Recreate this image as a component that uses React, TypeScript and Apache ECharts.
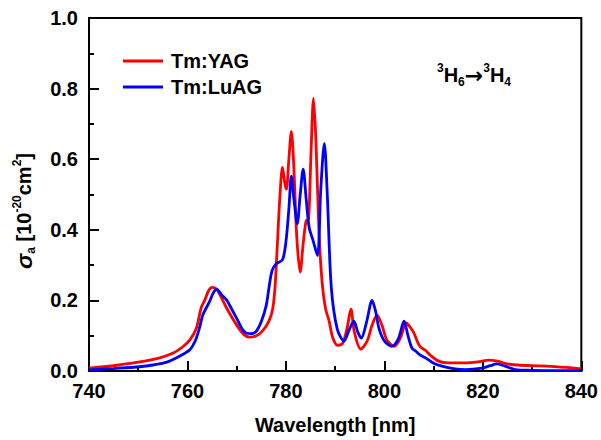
import React, { useEffect, useRef } from "react";
import * as echarts from "echarts";

const seriesNames = ["Tm:YAG", "Tm:LuAG"];
const seriesColors = ["#ff0000", "#0000ff"];

// Tm:YAG absorption cross-section [wavelength nm, sigma 1e-20 cm2]
const yagData: [number, number][] = [
  [740, 0.008], [743, 0.012], [746, 0.017], [750, 0.025], [754, 0.036], [757, 0.05],
  [759, 0.068], [760.5, 0.088], [761.8, 0.121], [762.8, 0.18], [763.5, 0.2], [764.3, 0.228],
  [765, 0.237], [765.9, 0.232], [767, 0.205], [768, 0.177], [770, 0.13], [771.5, 0.103],
  [772.6, 0.096], [774, 0.1], [775.2, 0.113], [776.5, 0.14], [777.3, 0.175], [777.8, 0.24],
  [778.3, 0.37], [778.8, 0.5], [779.3, 0.577], [779.8, 0.53], [780.1, 0.515], [780.6, 0.6],
  [781.1, 0.679], [781.6, 0.58], [782.2, 0.38], [782.9, 0.28], [783.5, 0.36], [784.1, 0.425],
  [784.6, 0.43], [785.1, 0.62], [785.6, 0.772], [786.1, 0.65], [786.7, 0.4], [787.3, 0.26],
  [788, 0.18], [788.8, 0.14], [789.5, 0.095], [790.5, 0.073], [791.5, 0.078], [792.4, 0.12],
  [793.2, 0.175], [793.9, 0.11], [795.2, 0.062], [796.5, 0.085], [797.5, 0.13], [798.5, 0.158],
  [799.5, 0.13], [800.5, 0.088], [802, 0.07], [803.3, 0.095], [804.4, 0.136], [805.2, 0.125],
  [806, 0.107], [807.2, 0.07], [808.4, 0.058], [809.3, 0.045], [811, 0.028], [813, 0.023],
  [816.5, 0.023], [819, 0.026], [821.2, 0.031], [823, 0.028], [825, 0.02], [827, 0.017],
  [830, 0.015], [833, 0.014], [837, 0.01], [840, 0.006],
];

// Tm:LuAG absorption cross-section
const luagData: [number, number][] = [
  [740, 0.003], [745, 0.007], [750.3, 0.012], [753, 0.017], [755.8, 0.025], [758.4, 0.042],
  [760.4, 0.059], [761.2, 0.075], [761.8, 0.093], [762.5, 0.125], [763.1, 0.158], [764.5, 0.197],
  [765.2, 0.22], [765.9, 0.232], [767, 0.215], [768, 0.2], [769, 0.175], [770, 0.149],
  [771, 0.122], [772, 0.107], [773, 0.106], [774, 0.113], [775, 0.14], [776, 0.186],
  [776.6, 0.24], [777.2, 0.285], [778, 0.303], [779.3, 0.315], [780, 0.366], [780.6, 0.459],
  [781.1, 0.552], [781.6, 0.49], [782.3, 0.417], [782.9, 0.5], [783.5, 0.572], [784.1, 0.49],
  [784.7, 0.408], [785.5, 0.37], [786.4, 0.327], [787.1, 0.52], [787.8, 0.645], [788.4, 0.5],
  [789.2, 0.24], [790.4, 0.12], [791.8, 0.085], [792.8, 0.115], [793.8, 0.141], [794.6, 0.11],
  [795.3, 0.093], [796.4, 0.14], [797.5, 0.2], [798.2, 0.17], [798.9, 0.121], [800, 0.085],
  [801.5, 0.07], [802.8, 0.09], [804, 0.141], [804.8, 0.1], [805.6, 0.065], [806.4, 0.056],
  [807.3, 0.045], [808.4, 0.037], [810, 0.022], [811.7, 0.014], [814, 0.007], [816.5, 0.004],
  [819.8, 0.008], [821.5, 0.015], [822.8, 0.02], [824.5, 0.014], [826.6, 0.004], [830, 0.002],
  [835, 0.001], [840, 0.001],
];

const xTitle = "Wavelength [nm]";
const FONT = "'Liberation Sans', Arial, Helvetica, sans-serif";

export default function App() {
  const ref = useRef<HTMLDivElement>(null);
  useEffect(() => {
    if (!ref.current) return;
    const chart = echarts.init(ref.current, undefined, { renderer: "svg" });
    const option: any = {
      animation: false,
      backgroundColor: "#fff",
      textStyle: { fontFamily: FONT },
      grid: {
        left: 89, right: 18, top: 18, bottom: 67,
        show: true, borderColor: "#000", borderWidth: 2, backgroundColor: "transparent",
      },
      legend: {
        orient: "vertical",
        left: 118,
        top: 46,
        itemWidth: 40,
        itemHeight: 14,
        itemGap: 6,
        icon: "path://M0,5.5 L40,5.5 L40,8.5 L0,8.5 Z",
        textStyle: { fontSize: 20, fontWeight: "bold", color: "#000", fontFamily: FONT, padding: [0, 0, 0, 3] },
        data: seriesNames,
      },
      xAxis: {
        type: "value",
        min: 740, max: 840, interval: 20,
        name: xTitle,
        nameLocation: "middle",
        nameGap: 44,
        nameTextStyle: { fontSize: 20, fontWeight: "bold", color: "#000", fontFamily: FONT },
        axisLine: { show: true, lineStyle: { color: "#000", width: 2 } },
        axisTick: { show: true, inside: true, length: 10, lineStyle: { color: "#000", width: 2 } },
        minorTick: { show: true, splitNumber: 2, length: 5, lineStyle: { color: "#000", width: 2 } },
        splitLine: { show: false },
        axisLabel: { fontSize: 20, fontWeight: "bold", color: "#000", margin: 10, fontFamily: FONT },
      },
      yAxis: {
        type: "value",
        min: 0, max: 1.0, interval: 0.2,
        axisLine: { show: true, lineStyle: { color: "#000", width: 2 } },
        axisTick: { show: true, inside: true, length: 10, lineStyle: { color: "#000", width: 2 } },
        minorTick: { show: true, splitNumber: 2, length: 5, lineStyle: { color: "#000", width: 2 } },
        splitLine: { show: false },
        axisLabel: {
          fontSize: 20, fontWeight: "bold", color: "#000", margin: 11, fontFamily: FONT,
          formatter: (v: number) => v.toFixed(1),
        },
      },
      series: [
        {
          name: seriesNames[0], type: "line", data: yagData, showSymbol: false, symbol: "none",
          smooth: 0.3, color: seriesColors[0], lineStyle: { width: 2.8, color: seriesColors[0] }, z: 2,
        },
        {
          name: seriesNames[1], type: "line", data: luagData, showSymbol: false, symbol: "none",
          smooth: 0.3, color: seriesColors[1], lineStyle: { width: 2.8, color: seriesColors[1] }, z: 3,
        },
      ],
      graphic: [
        {
          type: "text",
          x: 24, y: 211,
          rotation: Math.PI / 2,
          style: {
            text: "{s|σ}{sub|a}{m| [10}{sup|-20}{m|cm}{sup|2}{m|]}",
            align: "center",
            verticalAlign: "middle",
            fill: "#000",
            rich: {
              s: { fontSize: 23, fontWeight: "bold", fontStyle: "italic", fontFamily: FONT, lineHeight: 26, fill: "#000" },
              m: { fontSize: 20, fontWeight: "bold", fontFamily: FONT, lineHeight: 26, fill: "#000" },
              sub: { fontSize: 12, fontWeight: "bold", fontFamily: FONT, lineHeight: 12, verticalAlign: "bottom", fill: "#000" },
              sup: { fontSize: 12, fontWeight: "bold", fontFamily: FONT, lineHeight: 12, verticalAlign: "top", fill: "#000" },
            },
          },
        },
        {
          type: "text",
          x: 437, y: 75,
          style: {
            text: "{sup|3}{m|H}{sub|6}{a|→}{sup|3}{m|H}{sub|4}",
            align: "left",
            verticalAlign: "middle",
            fill: "#000",
            rich: {
              m: { fontSize: 20, fontWeight: "bold", fontFamily: FONT, lineHeight: 26, fill: "#000" },
              a: { fontSize: 22, fontWeight: "bold", fontFamily: "'DejaVu Sans', sans-serif", lineHeight: 26, fill: "#000" },
              sub: { fontSize: 12, fontWeight: "bold", fontFamily: FONT, lineHeight: 12, verticalAlign: "bottom", fill: "#000" },
              sup: { fontSize: 12, fontWeight: "bold", fontFamily: FONT, lineHeight: 12, verticalAlign: "top", fill: "#000" },
            },
          },
        },
      ],
    };
    chart.setOption(option);
    return () => chart.dispose();
  }, []);
  return <div ref={ref} style={{ width: 601, height: 440, position: "absolute", left: 0, top: 0 }} />;
}
